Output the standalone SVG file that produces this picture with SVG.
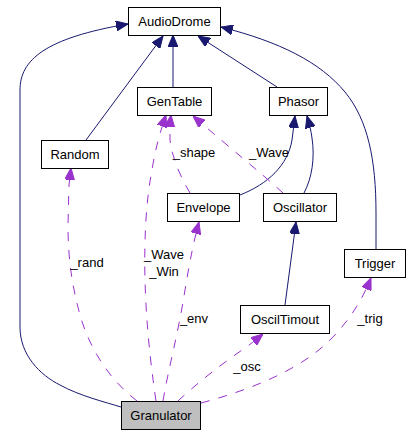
<svg xmlns="http://www.w3.org/2000/svg" width="410" height="434" viewBox="0 0 410 434">
<style>
.node rect{fill:#ffffff;stroke:#000000;stroke-width:1}
#Granulator rect{fill:#bfbfbf}
.node text{font-family:"Liberation Sans",Arial,sans-serif;font-size:13px;fill:#000000;text-anchor:middle}
.inh{fill:none;stroke:#191970;stroke-width:1;marker-end:url(#arrNavy)}
.use{fill:none;stroke:#9a32cd;stroke-width:1;stroke-dasharray:9,9;marker-end:url(#arrPurple)}
.lbl{font-family:"Liberation Sans",Arial,sans-serif;font-size:13px;fill:#000000;text-anchor:middle}
</style>
<defs>
<marker id="arrNavy" viewBox="0 0 12 10" refX="12" refY="5" markerWidth="12" markerHeight="10" markerUnits="userSpaceOnUse" orient="auto">
<path d="M0,0 L12,5 L0,10 z" fill="#191970" stroke="#191970" stroke-width="1"/>
</marker>
<marker id="arrPurple" viewBox="0 0 12 10" refX="12" refY="5" markerWidth="12" markerHeight="10" markerUnits="userSpaceOnUse" orient="auto">
<path d="M0,0 L12,5 L0,10 z" fill="#9a32cd" stroke="#9a32cd" stroke-width="1" stroke-dasharray="none"/>
</marker>
</defs>
<rect width="410" height="434" fill="#ffffff"/>
<g id="connectors">
<path class="inh" d="M121,407 C105,402 80,396 60,385 C40,375 20,355 20,327 L20,90 C20,60 45,38 128,24"/>
<path class="inh" d="M86,140 L163,36"/>
<path class="inh" d="M173,88 L173,35"/>
<path class="inh" d="M277,87 L198,36"/>
<path class="inh" d="M376,249 L376,213 C376,160 368,120 345,92 C320,62 280,42 221,27"/>
<path class="inh" d="M240,195 C268,184 288,165 292,140 C293,132 294,124 295,116"/>
<path class="inh" d="M304,193 C312,178 315,158 312,138 C311,130 309,123 307,116"/>
<path class="inh" d="M285,305 L296,222"/>
<path class="use" d="M137,401 C110,380 90,350 80,315 C72,285 68,260 68,225 L69,185 L71,168"/>
<path class="use" d="M156,401 C150,360 146,320 145,280 C144,240 146,200 152,170 C155,150 160,132 166,115"/>
<path class="use" d="M190,193 C181,178 172,158 170,140 C170,132 170,124 171,115"/>
<path class="use" d="M283,193 C260,172 230,148 193,116"/>
<path class="use" d="M163,401 C168,370 178,335 185,290 C190,260 194,240 199,222"/>
<path class="use" d="M178,401 C195,385 220,365 245,348 C252,343 258,338 263,334"/>
<path class="use" d="M201,403 C250,390 300,370 330,340 C350,320 362,300 371,278"/>
<text class="lbl" x="87" y="267">_rand</text>
<text class="lbl" x="164" y="259">_Wave</text>
<text class="lbl" x="164" y="276">_Win</text>
<text class="lbl" x="194" y="157">_shape</text>
<text class="lbl" x="269" y="157">_Wave</text>
<text class="lbl" x="194" y="323">_env</text>
<text class="lbl" x="247" y="371">_osc</text>
<text class="lbl" x="370" y="323">_trig</text>
</g>
<g id="AudioDrome" class="node"><rect x="128.5" y="7.5" width="92" height="28"/><text x="174.5" y="25.7">AudioDrome</text></g>
<g id="GenTable" class="node"><rect x="137.5" y="87.5" width="74" height="28"/><text x="174.5" y="106">GenTable</text></g>
<g id="Phasor" class="node"><rect x="269.5" y="87.5" width="58" height="28"/><text x="298.5" y="106">Phasor</text></g>
<g id="Random" class="node"><rect x="41.5" y="140.5" width="67" height="28"/><text x="75" y="158.8">Random</text></g>
<g id="Envelope" class="node"><rect x="167.5" y="193.5" width="72" height="28"/><text x="203.5" y="211.8">Envelope</text></g>
<g id="Oscillator" class="node"><rect x="263.5" y="193.5" width="73" height="28"/><text x="300" y="211.8">Oscillator</text></g>
<g id="Trigger" class="node"><rect x="344.5" y="249.5" width="61" height="28"/><text x="375" y="267.8">Trigger</text></g>
<g id="OscilTimout" class="node"><rect x="240.5" y="305.5" width="89" height="28"/><text x="285" y="323.8">OscilTimout</text></g>
<g id="Granulator" class="node"><rect x="121.5" y="401.5" width="79" height="28"/><text x="161" y="419.8">Granulator</text></g>
</svg>
